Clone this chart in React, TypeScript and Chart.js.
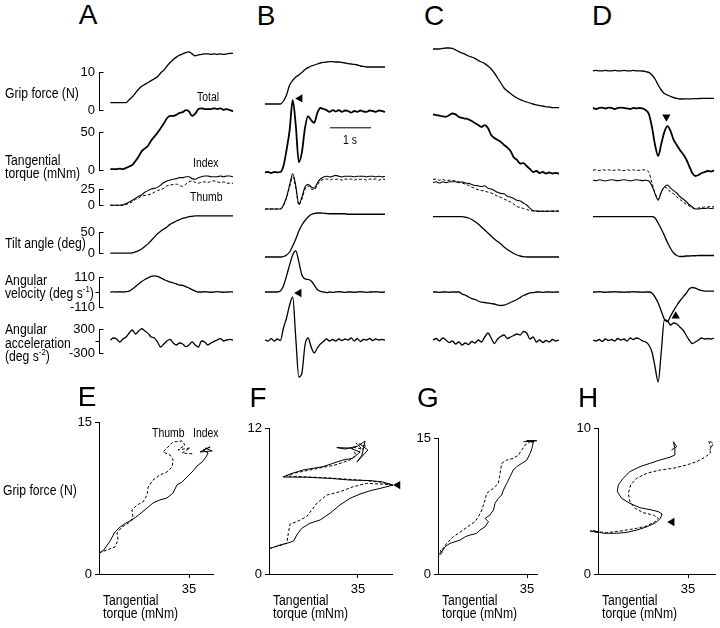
import React, { useEffect, useRef } from 'react';
import { Chart, registerables } from 'chart.js';
Chart.register(...registerables);

const FONT = '"Liberation Sans", Arial, Helvetica, sans-serif';

// ---------- time base (s) shared by the four columns ----------
const T = [0, 0.075, 0.15, 0.225, 0.3, 0.375, 0.45, 0.525, 0.6, 0.675, 0.75, 0.825, 0.9, 0.975, 1.05, 1.125, 1.2, 1.275, 1.35, 1.425,
  1.5, 1.575, 1.65, 1.725, 1.8, 1.875, 1.95, 2.025, 2.1, 2.175, 2.25, 2.325, 2.4, 2.475, 2.55, 2.625, 2.7, 2.775, 2.85, 2.925];
const TMAX = 2.925;

// ---------- column A ----------
const A_grip = [2.0, 2.0, 2.0, 2.0, 2.0, 2.0, 2.75, 3.5, 4.5, 5.5, 6.25, 6.75, 7.25, 7.75, 8.25, 8.75, 9.75, 10.5, 11.5, 12.5,
  13.25, 13.9, 14.4, 14.75, 15.1, 15.25, 14.75, 14.25, 14.5, 14.6, 14.75, 14.75, 14.6, 14.75, 14.6, 14.75, 14.6, 14.75, 14.9, 14.9];
const A_total = [1.5, 1.5, 1.5, 2, 1.5, 3, 4.8, 7, 12, 18, 25, 28.5, 32, 39, 44, 49, 55, 61, 68, 71,
  71, 72.6, 75, 76, 78.6, 77, 71, 74, 80, 81, 80, 80, 80, 81, 80, 81, 79, 80, 78.6, 77];
const A_index = [0, 0, 0, 0, 0.5, 2.5, 5, 7.5, 10.6, 13.75, 16, 20, 22.5, 25, 26, 27.5, 31, 35, 37.5, 39,
  40, 41, 42.5, 42.5, 44, 44, 41, 40, 42.5, 44, 45, 45, 44, 44, 44, 45, 44, 45, 45, 44];
const A_thumb = [0, 0, 0, 0, 0, 1, 3, 5, 9, 11, 14, 15, 16, 17.5, 20, 22.5, 24, 26, 30, 31,
  32, 32.5, 30.5, 29, 32.5, 36, 37.5, 35, 34, 35.6, 36, 35, 37, 37.5, 36, 35, 36, 34, 34, 34];
const A_tilt = [0, 0, 0, 0, 0, 0, 0, 1, 3, 6, 10, 16, 22, 30, 38, 46, 52, 57, 62, 68,
  72, 76, 79, 82, 84, 86, 87, 88, 88, 88, 88, 88, 88, 88, 88, 88, 88, 88, 88, 88];
const A_vel = [0, 1, 0, 2, 0, 2, 7, 22, 40, 59, 77, 92, 103, 114, 118, 114, 103, 92, 81, 74,
  66, 59, 51, 48, 40, 29, 18, 7, 0, 0, 2, 0, -2, 0, 3, 0, -2, 0, 1, 0];
const A_acc = [25, 75, 50, -25, 50, 100, 200, 275, 175, 250, 310, 250, 190, 100, 75, -25, -150, -75, 0, 40,
  -50, -100, -50, -75, -140, -100, -25, -100, -150, 0, -25, -100, -50, -10, 25, 60, 0, 25, 40, 25];

// ---------- column B ----------
const B_grip = [2, 2, 2, 2, 2, 2, 2.75, 4.25, 6.75, 7.9, 8.75, 9.25, 9.9, 10.6, 11.1, 11.5, 11.75, 12, 12.25, 12.4,
  12.5, 12.6, 12.6, 12.5, 12.5, 12.4, 12.25, 12.1, 12, 11.9, 11.75, 11.5, 11.4, 11.25, 11.25, 11.25, 11.25, 11.25, 11.25, 11.25];
const B_total = [2, 2.4, 1.2, 2.4, 2, 2.4, 9.5, 28.6, 52, 88, 58, 14, 26, 55, 69, 64, 61, 72.6, 78.6, 77.4,
  76, 74, 76, 74.4, 76, 74, 75.6, 75, 73, 75, 74, 75.6, 74.4, 74, 75.6, 75, 74, 75.6, 75, 74];
const B_index = [0, 0, 0, 0, 0, 0, 5, 15, 30, 44, 29, 6, 15, 27.5, 31, 27.5, 26, 32.5, 37.5, 40,
  41, 40, 41, 42, 41, 40, 41, 41, 41, 40, 41, 41, 41, 40, 41, 41, 40, 41, 40, 41];
const B_thumb = [0, 0, 0, 0, 0, 0, 4, 14, 27.5, 40, 26, 5, 12.5, 25, 29, 25, 24, 30, 35, 37,
  37.5, 36, 37.5, 37, 37.5, 36, 37.5, 37, 37.5, 36, 37.5, 37, 37.5, 36, 37.5, 37, 37.5, 36, 37.5, 37];
const B_tilt = [0, 0, 0, 0, 0, 0, 1, 4, 10, 22, 36, 52, 64, 73, 80, 85, 87, 88, 88, 87.6,
  87, 86.5, 86.5, 86.5, 86.5, 86.5, 86.5, 85.5, 85.5, 85.5, 85.5, 85.5, 85.5, 85.5, 85.5, 85.5, 85.5, 85.5, 85.5, 85.5];
const B_vel = [0, 0, 0, 0, 0, 7, 44, 118, 199, 272, 301, 221, 125, 96, 92, 81, 51, 18, 4, 0,
  -4, 0, -3, 0, 2, 0, -3, 0, 0, -2, 0, 2, 0, -3, 0, 0, 2, 0, -2, 0];
const B_acc = [25, 0, 60, 0, 50, 12, 325, 575, 900, 1100, 75, -900, -800, -100, 75, -150, -300, -175, -75, -12,
  50, 0, 38, 0, 50, 12, 50, 25, 75, 0, 62, -12, 38, 25, 62, 12, 50, 25, 38, 25];

// ---------- column C ----------
const C_grip = [15.75, 15.75, 15.75, 15.9, 16, 16, 15.9, 15.5, 15.1, 14.75, 14.4, 14, 13.75, 13.4, 12.9, 12.5, 12.1, 11.5, 10.75, 9.75,
  8.5, 7.25, 6, 5.25, 4.6, 4, 3.5, 3.1, 2.75, 2.5, 2.25, 2, 1.8, 1.6, 1.5, 1.3, 1.25, 1.1, 1.1, 1.1];
const C_total = [71, 70, 69.6, 68.5, 68, 70, 72, 71, 68, 66.7, 66, 65, 63, 60.7, 58.3, 56, 58.3, 54.8, 46.4, 42.9,
  40.5, 38, 34.5, 31.5, 27.4, 20, 16.7, 12.5, 13, 9.5, 6, 2.4, 3.6, 1.2, 2.4, 0.6, 1.8, 0.6, 1.2, 0.6];
const C_index = [33, 34, 32.5, 34, 33, 34, 34, 34, 33, 34, 32.5, 32, 30.6, 29.4, 29, 28, 29, 26, 25, 23,
  21, 19.4, 19, 16, 15, 13, 11, 10, 7.5, 5, 1, -2, -2.5, -3, -2.5, -3, -2.5, -3, -2.5, -2.5];
const C_thumb = [37, 37.5, 36, 37, 35.6, 36, 35.6, 35, 34, 32.5, 31, 29.4, 27.5, 25.6, 24, 23, 22.5, 21, 20, 18,
  16, 14.4, 12.5, 10.6, 8.75, 6.25, 3, 2, 0.6, -0.6, -2, -2.5, -2.5, -2.5, -3, -2.5, -3, -2.5, -2.5, -3];
const C_tilt = [80.6, 80.6, 80.6, 80.6, 80.6, 80.6, 80.6, 80.6, 80.6, 80.6, 79.6, 78, 75, 71, 66, 60, 54, 48, 42, 36,
  31, 26, 20, 15, 11, 7, 4, 2, 0.6, 0, 0, 0, 0, 0, 0, 0, 0, 0, 0, 0];
const C_vel = [0, 0, -3, 0, 0, -2, 0, 0, 0, -15, -22, -37, -48, -55, -66, -74, -77, -81, -85, -88,
  -96, -99, -96, -88, -77, -66, -55, -40, -26, -15, -7, -4, 0, 0, -3, 0, 0, -2, 0, 0];
const C_acc = [25, 62, 0, 75, 25, -38, 0, -75, -25, -100, -50, -88, -12, -50, 25, -25, 100, 200, 75, -62,
  50, 112, 150, 62, 100, 138, 175, 150, 238, 200, 50, 100, -25, 25, -38, 12, -25, 38, 0, 25];

// ---------- column D ----------
const D_grip = [10.3, 10.4, 10.3, 10.3, 10.4, 10.3, 10.3, 10.4, 10.3, 10.3, 10.4, 10.3, 10.3, 10.4, 10.3, 10.3, 10.25, 10.1, 9.9, 9.25,
  8.25, 6.75, 5.5, 4.6, 4.25, 3.9, 3.6, 3.4, 3.25, 3.25, 3.3, 3.3, 3.3, 3.35, 3.35, 3.4, 3.4, 3.4, 3.4, 3.4];
const D_total = [78.6, 77.4, 78.6, 79, 78, 79, 78.6, 77.4, 78.6, 79, 78.6, 78, 77.4, 78.6, 78, 78.6, 78, 76, 71.4, 56,
  34.5, 21.4, 35.7, 50, 57, 51, 40.5, 34.5, 28.6, 23.8, 17.9, 9.5, 1.2, -2.4, -1.2, 1.2, 2.4, 3.6, 3, 4.2];
const D_index = [36, 35.5, 36.5, 36, 35, 36, 36.5, 36, 35.5, 36, 36.5, 36, 35, 36, 36.5, 36, 35.5, 36, 35, 29,
  19, 11, 21, 27.5, 30, 26, 23, 20, 15.6, 12.5, 9.4, 5.6, 2.5, 0, 0, 0.6, 0.6, 1.25, 0.6, 1.25];
const D_thumb = [48.5, 49, 48, 49, 48.5, 49, 48, 48.5, 49, 48.5, 48, 49, 48.5, 49, 48, 48.5, 49, 48.5, 46, 32.5,
  20, 12.5, 21, 27.5, 25.6, 21, 19, 15, 12, 8.75, 6.25, 3.75, 1.25, 0.6, 1.25, 1.9, 2.5, 2.5, 3.1, 2.5];
const D_tilt = [80.6, 80.6, 80.6, 80.6, 80.6, 80.6, 80.6, 80.6, 80.6, 80.6, 80.6, 80.6, 80.6, 80.6, 80.6, 80.6, 80.6, 80.6, 80.6, 80.6,
  78, 68, 56, 43, 29, 17, 8, 3, 1, 1, 2, 2, 2.5, 2.5, 3, 3, 3, 3, 3, 3];
const D_vel = [0, 0, 2, 0, -2, 0, 0, 2, 0, 0, -2, 0, 0, 2, 0, 0, -2, 0, 0, -7,
  -37, -81, -140, -199, -217, -176, -136, -99, -66, -37, -11, 22, 33, 29, 18, 11, 7, 7, 7, 7];
const D_acc = [25, 0, 38, -12, 50, 12, 38, 0, 62, 25, 50, 0, 75, 38, 75, 50, 0, -25, -100, -275,
  -650, -1025, -275, 525, 500, 400, 450, 425, 350, 275, 150, 25, -62, -25, 25, 75, 50, 62, 50, 75];

// ---------- markers (time s, value, rotation deg) & scale bar ----------
const MARK_B_TORQUE = [0.853, 90, 270];
const MARK_B_ACC = [0.829, 1200, 270];
const MARK_D_TORQUE = [1.774, 68, 180];
const MARK_D_ACC = [2.0, 625, 0];
const SCALEBAR_T = [1.584, 2.584];
const SCALEBAR_V = 55;

// ---------- bottom panels: tangential torque (mNm) vs grip force (N) ----------
const E_idx_x = [0, 1.9, 4.3, 6.2, 8.2, 10.5, 12.8, 15.9, 18.7, 21.0, 23.7, 26.4, 28.8, 30.3, 32.3, 34.2, 36.2, 38.1, 40.1, 41.6, 42.4, 40.5, 43.2, 39.3, 44, 41.2];
const E_idx_y = [2.07, 2.37, 3.26, 4.15, 4.64, 5.03, 5.33, 5.92, 6.52, 7.01, 7.31, 7.50, 8.0, 8.79, 9.08, 9.58, 10.07, 10.66, 11.06, 11.55, 11.94, 12.24, 12.54, 12.04, 12.14, 12.44];
const E_thb_x = [0, 3.1, 6.2, 7.4, 7.0, 8.9, 12.1, 13.2, 12.8, 14.8, 17.1, 18.7, 19.1, 21.0, 23.7, 26.4, 28.4, 28.8, 27.6, 24.9, 26.8, 28.8, 32.3, 33.4, 30.7, 35.4, 32.3, 36.6];
const E_thb_y = [2.07, 2.37, 2.67, 3.36, 4.05, 4.64, 5.13, 5.63, 6.32, 6.81, 7.11, 7.80, 8.59, 9.28, 9.77, 10.07, 10.56, 11.25, 11.75, 12.04, 12.54, 13.03, 13.13, 12.73, 12.24, 12.44, 11.94, 11.85];

const F_idx_x = [0.4, 4.3, 8.3, 9.8, 10.9, 12.9, 16.1, 20.1, 24.0, 27.9, 31.9, 35.8, 39.7, 44.4, 48.8, 44.8, 39.7, 31.9, 24.0, 14.8, 8.3, 5.5, 8.3, 13.4, 21.2, 29.1, 33.0, 35.8, 31.9, 26.7, 29.9, 35.0, 37.8, 36.6, 34.6, 38.9, 35.8];
const F_idx_y = [2.11, 2.38, 2.60, 2.74, 3.20, 3.76, 4.17, 4.44, 4.99, 5.67, 6.22, 6.57, 6.84, 7.07, 7.31, 7.56, 7.68, 7.72, 7.86, 7.95, 7.97, 7.97, 8.22, 8.55, 8.82, 9.37, 9.51, 10.02, 10.35, 10.39, 10.27, 10.52, 10.93, 9.78, 9.20, 10.19, 10.68];
const F_thb_x = [0.4, 4.3, 7.0, 7.6, 8.3, 10.9, 14.8, 18.8, 22.7, 27.9, 33.1, 38.4, 43.6, 48.8, 43.6, 35.8, 24.0, 12.2, 6.7, 10.2, 18.1, 26.0, 31.9, 34.2, 32.6, 36.6, 34.2, 38.1, 35.4];
const F_thb_y = [2.11, 2.34, 2.52, 3.34, 4.11, 4.30, 4.71, 5.81, 6.49, 6.76, 7.17, 7.45, 7.40, 7.31, 7.56, 7.72, 7.89, 8.01, 8.05, 8.30, 8.63, 8.96, 9.37, 9.78, 10.44, 10.27, 10.76, 10.52, 10.02];

const G_idx_x = [0.6, 1.8, 0.8, 1.5, 2.8, 4.7, 6.7, 8.7, 10.7, 12.6, 15.2, 16.5, 18.5, 19.8, 18.5, 20.4, 21.8, 22.4, 23.7, 25.0, 25.7, 27.0, 28.3, 29.6, 30.9, 32.9, 34.9, 36.2, 36.9, 37.5, 34.9, 38.8, 33.6];
const G_idx_y = [2.1, 2.4, 2.6, 2.46, 3.01, 3.38, 3.56, 3.75, 4.11, 4.30, 4.48, 4.85, 5.21, 5.77, 6.14, 6.50, 7.06, 7.79, 8.34, 8.71, 9.26, 9.99, 10.73, 11.47, 11.84, 12.20, 12.57, 13.30, 13.85, 14.59, 14.70, 14.70, 14.59];
const G_thb_x = [0.6, 1.5, 3.4, 6.0, 8.0, 9.9, 12.6, 14.5, 15.9, 17.2, 18.5, 19.1, 21.7, 23.7, 24.4, 25.0, 27.0, 29.6, 31.6, 32.9, 34.2, 36.2, 34.9, 38.1, 36.2];
const G_thb_y = [2.2, 2.65, 3.38, 4.11, 4.48, 4.85, 5.40, 5.77, 6.32, 7.06, 8.16, 8.89, 9.44, 9.99, 11.09, 12.20, 12.57, 12.75, 13.12, 13.67, 14.22, 14.59, 14.70, 14.70, 14.41];

const H_idx_x = [-3.1, 0.1, -1.8, 2.1, 3.4, 7.3, 11.2, 15.1, 19.1, 22.4, 24.3, 24.9, 23.6, 21.0, 16.3, 12.4, 9.2, 7.5, 7.9, 9.8, 12.4, 16.3, 20.2, 24.1, 28.0, 29.9, 29.9, 29.3, 30.6, 28.6];
const H_idx_y = [2.95, 2.83, 2.97, 2.79, 2.79, 2.79, 2.85, 3.01, 3.24, 3.51, 3.81, 4.11, 4.26, 4.38, 4.54, 4.84, 5.18, 5.64, 6.10, 6.56, 7.01, 7.35, 7.58, 7.81, 8.00, 8.15, 8.61, 9.06, 8.72, 8.49];
const H_thb_x = [-3.1, 3.4, 9.8, 15.1, 18.9, 22.2, 23.5, 21.5, 17.6, 14.4, 12.4, 11.8, 12.7, 15.1, 19.0, 24.1, 29.3, 34.5, 38.4, 41.6, 43.6, 43.9, 43.0, 44.9, 43.4];
const H_thb_y = [2.95, 2.83, 2.97, 3.13, 3.29, 3.58, 3.81, 4.04, 4.20, 4.50, 4.95, 5.53, 6.10, 6.56, 6.90, 7.12, 7.24, 7.47, 7.70, 8.00, 8.27, 8.72, 9.13, 8.95, 8.49];

const MARK_F = [50.7, 7.31, 270];
const MARK_H = [28.8, 3.56, 270];

// ---------- plugins ----------
const bracketPlugin = {
  id: 'bracket',
  afterDraw(chart: any, _a: any, opts: any) {
    if (!opts || !opts.right) return;
    const s = chart.scales.y;
    const ctx = chart.ctx;
    const x = Math.floor(s.right) + 0.5;
    ctx.save();
    ctx.strokeStyle = '#000';
    ctx.lineWidth = 1;
    ctx.beginPath();
    for (const v of opts.right) {
      const y = Math.floor(s.getPixelForValue(v)) + 0.5;
      ctx.moveTo(x, y); ctx.lineTo(x + 4, y);
    }
    for (const v of opts.left || []) {
      const y = Math.floor(s.getPixelForValue(v)) + 0.5;
      ctx.moveTo(x, y); ctx.lineTo(x - 4, y);
    }
    ctx.stroke();
    ctx.restore();
  },
};

// filled triangles placed through the chart's own scales (allowed outside the chart area)
const markPlugin = {
  id: 'marks',
  afterDatasetsDraw(chart: any, _a: any, opts: any) {
    if (!opts || !opts.items || !opts.items.length) return;
    const sx = chart.scales.x, sy = chart.scales.y;
    const ctx = chart.ctx;
    ctx.save();
    ctx.fillStyle = '#000';
    for (const m of opts.items) {
      const px = sx.getPixelForValue(m[0]);
      const py = sy.getPixelForValue(m[1]);
      const r = 4.8;
      const a0 = (m[2] * Math.PI) / 180;
      ctx.beginPath();
      for (let k = 0; k < 3; k++) {
        const a = a0 + (k * 2 * Math.PI) / 3;
        const vx = px + r * Math.sin(a);
        const vy = py - r * Math.cos(a);
        if (k === 0) ctx.moveTo(vx, vy); else ctx.lineTo(vx, vy);
      }
      ctx.closePath();
      ctx.fill();
    }
    ctx.restore();
  },
};

function line(values: number[], extra: any = {}) {
  return {
    data: T.map((t, i) => ({ x: t, y: values[i] })),
    borderColor: '#000', borderWidth: 1.3, pointRadius: 0, fill: false, clip: false,
    cubicInterpolationMode: 'monotone', ...extra,
  };
}
function xy(xs: number[], ys: number[], extra: any = {}) {
  return {
    data: xs.map((x, i) => ({ x, y: ys[i] })),
    showLine: true, borderColor: '#000', borderWidth: 1, pointRadius: 0, fill: false, clip: false, tension: 0, ...extra,
  };
}

function ChartCanvas({ x, y, w, h, config }: any) {
  const ref = useRef<HTMLCanvasElement>(null);
  useEffect(() => {
    const c = new Chart(ref.current as HTMLCanvasElement, config);
    return () => c.destroy();
  }, []);
  return <canvas ref={ref} width={w} height={h} style={{ position: 'absolute', left: x, top: y, width: w, height: h }} />;
}

// layout of the trace strips (pixel rows / columns)
const ROW_GRIP = { min: 0, max: 10, top: 72, bottom: 112, padT: 34, padB: 10, mid: false };
const ROW_TOTAL = { min: 0, max: 50, top: 132, bottom: 174, padT: 44, padB: 8, mid: false };
const ROW_DIGIT = { min: 0, max: 25, top: 189, bottom: 209, padT: 26, padB: 8, mid: false };
const ROW_TILT = { min: 0, max: 50, top: 232, bottom: 257, padT: 26, padB: 8, mid: false };
const ROW_VEL = { min: -110, max: 110, top: 277, bottom: 307, padT: 30, padB: 18, mid: true };
const ROW_ACC = { min: -300, max: 300, top: 329, bottom: 353, padT: 50, padB: 34, mid: true };

const AXW = 45;
const PX = 6;

function Strip({ col, row, datasets, marks = [] }: any) {
  const x = col.axis ? col.left - AXW : col.left - PX;
  const w = col.axis ? AXW + (col.right - col.left) + PX : col.right - col.left + 2 * PX;
  const y = row.top - row.padT;
  const h = row.padT + (row.bottom - row.top) + row.padB;
  const yScale: any = {
    type: 'linear', display: !!col.axis, min: row.min, max: row.max,
    grid: { display: true, drawOnChartArea: false, drawTicks: false },
    border: { display: true, color: '#000', width: 1 },
    ticks: { color: '#000', font: { family: FONT, size: 13 }, padding: 4, autoSkip: false },
  };
  if (col.axis) {
    yScale.afterFit = (s: any) => { s.width = AXW; };
    yScale.afterBuildTicks = (s: any) => { s.ticks = [{ value: row.min }, { value: row.max }]; };
  }
  const config = {
    type: 'line',
    data: { datasets },
    options: {
      responsive: false, maintainAspectRatio: false, animation: false, devicePixelRatio: 1, events: [],
      layout: { padding: { left: col.axis ? 0 : PX, right: PX, top: row.padT, bottom: row.padB } },
      plugins: {
        legend: { display: false }, tooltip: { enabled: false },
        bracket: col.axis ? { right: [row.min, row.max], left: row.mid ? [0] : [] } : {},
        marks: { items: marks },
      },
      scales: {
        x: { type: 'linear', display: false, min: col.tmin, max: TMAX },
        y: yScale,
      },
    },
    plugins: [bracketPlugin, markPlugin],
  };
  return <ChartCanvas x={x} y={y} w={w} h={h} config={config} />;
}

function XYPanel({ p, datasets }: any) {
  const YW = 30, XH = 26, PT = 14;
  const x = p.left - YW;
  const y = p.top - PT;
  const w = YW + (p.right - p.left) + p.padR;
  const h = PT + (p.bottom - p.top) + XH;
  const tickFont = { family: FONT, size: 13 };
  const config = {
    type: 'scatter',
    data: { datasets },
    options: {
      responsive: false, maintainAspectRatio: false, animation: false, devicePixelRatio: 1, events: [],
      layout: { padding: { left: 0, right: p.padR, top: PT, bottom: 0 } },
      plugins: { legend: { display: false }, tooltip: { enabled: false }, marks: { items: p.marks } },
      scales: {
        x: {
          type: 'linear', min: 0, max: p.xmax,
          afterFit: (s: any) => { s.height = XH; },
          afterBuildTicks: (s: any) => { s.ticks = [{ value: 35 }]; },
          grid: { display: true, drawOnChartArea: false, drawTicks: true, tickLength: 4, color: '#000' },
          border: { display: true, color: '#000', width: 1 },
          ticks: { color: '#000', font: tickFont, padding: 4, autoSkip: false, maxRotation: 0 },
        },
        y: {
          type: 'linear', min: 0, max: p.ymax,
          afterFit: (s: any) => { s.width = YW; },
          afterBuildTicks: (s: any) => { s.ticks = [{ value: 0 }, { value: p.ymax }]; },
          grid: { display: true, drawOnChartArea: false, drawTicks: true, tickLength: 4, color: '#000' },
          border: { display: true, color: '#000', width: 1 },
          ticks: { color: '#000', font: tickFont, padding: 3, autoSkip: false },
        },
      },
    },
    plugins: [markPlugin],
  };
  return <ChartCanvas x={x} y={y} w={w} h={h} config={config} />;
}

function Label({ x, y, size = 14, lh, sx = 0.87, children }: any) {
  return (
    <div style={{
      position: 'absolute', left: x, top: y, fontFamily: FONT, fontSize: size,
      lineHeight: (lh ?? size) + 'px', whiteSpace: 'nowrap', color: '#000',
      transform: `scaleX(${sx})`, transformOrigin: '0 0',
    }}>{children}</div>
  );
}
function Letter({ cx, cy, children }: any) {
  return (
    <div style={{
      position: 'absolute', left: cx - 20, top: cy - 13.7, width: 40, textAlign: 'center',
      fontFamily: FONT, fontSize: 28, lineHeight: '28px', color: '#000',
    }}>{children}</div>
  );
}
const Sup = ({ children }: any) => <sup style={{ fontSize: 9, lineHeight: 0, verticalAlign: 'super' }}>{children}</sup>;

const COLS = [
  { key: 'A', left: 99, right: 233, tmin: -0.27, axis: true, grip: A_grip, total: A_total, index: A_index, thumb: A_thumb, tilt: A_tilt, vel: A_vel, acc: A_acc, totalExtra: [], totalMarks: [], accMarks: [] },
  { key: 'B', left: 265, right: 385, tmin: 0, axis: false, grip: B_grip, total: B_total, index: B_index, thumb: B_thumb, tilt: B_tilt, vel: B_vel, acc: B_acc,
    totalExtra: [{ data: SCALEBAR_T.map((t) => ({ x: t, y: SCALEBAR_V })), borderColor: '#000', borderWidth: 1, pointRadius: 0, clip: false }],
    totalMarks: [MARK_B_TORQUE], accMarks: [MARK_B_ACC] },
  { key: 'C', left: 433, right: 559, tmin: 0, axis: false, grip: C_grip, total: C_total, index: C_index, thumb: C_thumb, tilt: C_tilt, vel: C_vel, acc: C_acc, totalExtra: [], totalMarks: [], accMarks: [] },
  { key: 'D', left: 593, right: 714, tmin: 0, axis: false, grip: D_grip, total: D_total, index: D_index, thumb: D_thumb, tilt: D_tilt, vel: D_vel, acc: D_acc,
    totalExtra: [], totalMarks: [MARK_D_TORQUE], accMarks: [MARK_D_ACC] },
];

const PANELS = [
  { key: 'E', left: 99, right: 213, top: 422, bottom: 574, xmax: 44.3, ymax: 15, padR: 14, marks: [], sets: [xy(E_idx_x, E_idx_y), xy(E_thb_x, E_thb_y, { borderDash: [3, 2] })] },
  { key: 'F', left: 269, right: 392, top: 428, bottom: 574, xmax: 48.4, ymax: 12, padR: 14, marks: [MARK_F], sets: [xy(F_idx_x, F_idx_y), xy(F_thb_x, F_thb_y, { borderDash: [3, 2] })] },
  { key: 'G', left: 438, right: 537, top: 438, bottom: 574, xmax: 38.9, ymax: 15, padR: 14, marks: [], sets: [xy(G_idx_x, G_idx_y), xy(G_thb_x, G_thb_y, { borderDash: [3, 2] })] },
  { key: 'H', left: 598, right: 715, top: 428, bottom: 574, xmax: 45.5, ymax: 10, padR: 5, marks: [MARK_H], sets: [xy(H_idx_x, H_idx_y), xy(H_thb_x, H_thb_y, { borderDash: [3, 2] })] },
];

export default function App() {
  return (
    <div style={{ position: 'absolute', left: 0, top: 0, width: 720, height: 628, overflow: 'hidden', background: '#fff' }}>
      {COLS.map((c) => (
        <React.Fragment key={c.key}>
          <Strip col={c} row={ROW_GRIP} datasets={[line(c.grip)]} />
          <Strip col={c} row={ROW_TOTAL} datasets={[line(c.total, { borderWidth: 1.8 }), ...c.totalExtra]} marks={c.totalMarks} />
          <Strip col={c} row={ROW_DIGIT} datasets={[line(c.index, { borderWidth: 1.1 }), line(c.thumb, { borderWidth: 1, borderDash: [3, 2] })]} />
          <Strip col={c} row={ROW_TILT} datasets={[line(c.tilt)]} />
          <Strip col={c} row={ROW_VEL} datasets={[line(c.vel)]} />
          <Strip col={c} row={ROW_ACC} datasets={[line(c.acc)]} marks={c.accMarks} />
        </React.Fragment>
      ))}
      {PANELS.map((p) => <XYPanel key={p.key} p={p} datasets={p.sets} />)}

      <Letter cx={88} cy={15}>A</Letter>
      <Letter cx={266} cy={16}>B</Letter>
      <Letter cx={434} cy={16}>C</Letter>
      <Letter cx={602} cy={16}>D</Letter>
      <Letter cx={87} cy={397}>E</Letter>
      <Letter cx={258} cy={398}>F</Letter>
      <Letter cx={428} cy={398}>G</Letter>
      <Letter cx={588} cy={398}>H</Letter>

      <Label x={5} y={87} lh={13}>Grip force (N)</Label>
      <Label x={5} y={154} lh={13}>Tangential<br />torque (mNm)</Label>
      <Label x={5} y={237} lh={13}>Tilt angle (deg)</Label>
      <Label x={5} y={274} lh={13}>Angular<br />velocity (deg s<Sup>-1</Sup>)</Label>
      <Label x={5} y={323} lh={13.5}>Angular<br />acceleration<br />(deg s<Sup>-2</Sup>)</Label>

      <Label x={197} y={91} size={12}>Total</Label>
      <Label x={193} y={157} size={12}>Index</Label>
      <Label x={190} y={191} size={12}>Thumb</Label>
      <Label x={343} y={134} size={12}>1 s</Label>

      <Label x={3} y={484} lh={13}>Grip force (N)</Label>
      <Label x={152} y={427} size={12}>Thumb</Label>
      <Label x={193} y={427} size={12}>Index</Label>
      <Label x={103} y={594} lh={13}>Tangential<br />torque (mNm)</Label>
      <Label x={273} y={594} lh={13}>Tangential<br />torque (mNm)</Label>
      <Label x={442} y={594} lh={13}>Tangential<br />torque (mNm)</Label>
      <Label x={602} y={594} lh={13}>Tangential<br />torque (mNm)</Label>
    </div>
  );
}
